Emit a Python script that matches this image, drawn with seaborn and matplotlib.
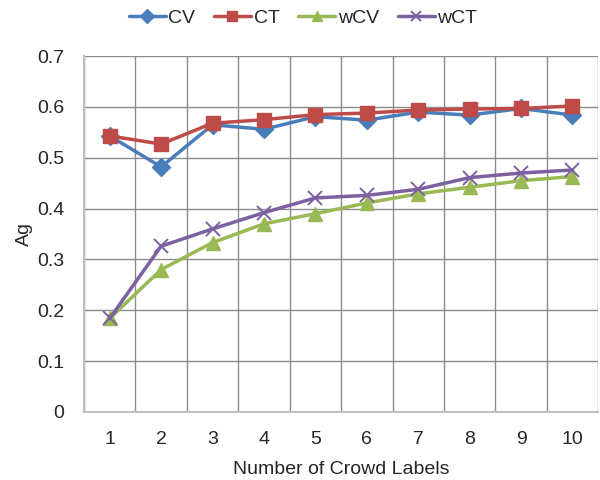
import numpy as np
import pandas as pd
import seaborn as sns
import matplotlib.pyplot as plt
from matplotlib.ticker import FixedLocator

labels = list(range(1, 11))
cv = [0.543, 0.482, 0.565, 0.556, 0.581, 0.574, 0.590, 0.584, 0.597, 0.584]
ct = [0.543, 0.527, 0.568, 0.575, 0.585, 0.588, 0.594, 0.596, 0.597, 0.602]
wcv = [0.184, 0.280, 0.333, 0.370, 0.390, 0.411, 0.429, 0.442, 0.455, 0.463]
wct = [0.184, 0.326, 0.360, 0.392, 0.421, 0.426, 0.438, 0.461, 0.470, 0.476]
series = ["CV", "CT", "wCV", "wCT"]
colors = ["#4A7EBB", "#BE4B48", "#98B954", "#7D60A0"]
markers = ["D", "s", "^", "x"]
yticks = [0, 0.1, 0.2, 0.3, 0.4, 0.5, 0.6, 0.7]
ytick_labels = ["0", "0.1", "0.2", "0.3", "0.4", "0.5", "0.6", "0.7"]

df = pd.DataFrame({"n": labels, "CV": cv, "CT": ct, "wCV": wcv, "wCT": wct})

sns.set_style("white")
plt.rcParams["font.family"] = ["Liberation Sans", "DejaVu Sans"]

fig, ax = plt.subplots(figsize=(6, 4.8), dpi=100)
fig.subplots_adjust(left=0.14, right=0.997, top=0.883, bottom=0.142)

sizes = {"D": 9, "s": 10.5, "^": 10.5, "x": 10}
for name, c, m in zip(series, colors, markers):
    sns.lineplot(data=df, x="n", y=name, color=c, marker=m, label=name,
                 linewidth=2.5, markersize=sizes[m],
                 markeredgewidth=1.4 if m == "x" else 1,
                 markeredgecolor=c, ax=ax)

ax.set_xlim(0.5, 10.5)
ax.set_ylim(0, 0.7)
ax.set_yticks(yticks)
ax.set_yticklabels(ytick_labels)
ax.xaxis.set_major_locator(FixedLocator(labels))
ax.xaxis.set_minor_locator(FixedLocator(np.arange(0.5, 11, 1)))
ax.tick_params(axis="x", which="major", length=0, labelsize=14, pad=14)
ax.tick_params(axis="x", which="minor", length=7, color="#a0a0a0", width=1)
ax.tick_params(axis="y", length=0, labelsize=14, pad=14)

ax.grid(False)
ax.yaxis.grid(True, color="#8c8c8c", linewidth=1)
ax.xaxis.grid(True, which="minor", color="#8c8c8c", linewidth=1)
ax.set_axisbelow(True)

for s in ["top", "right"]:
    ax.spines[s].set_visible(False)
for s in ["left", "bottom"]:
    ax.spines[s].set_color("#c0c0c0")
    ax.spines[s].set_linewidth(1.5)

ax.set_xlabel("Number of Crowd Labels", fontsize=14, labelpad=9)
ax.set_ylabel("Ag", fontsize=14, labelpad=3)

handles, lbls = ax.get_legend_handles_labels()
ax.legend_.remove()
fig.legend(handles, lbls, loc="center", bbox_to_anchor=(0.505, 0.963),
           ncol=4, frameon=False, fontsize=14, handlelength=1.9,
           handletextpad=0.15, columnspacing=0.95, markerscale=0.75,
           borderaxespad=0)

fig.savefig("out.png")
